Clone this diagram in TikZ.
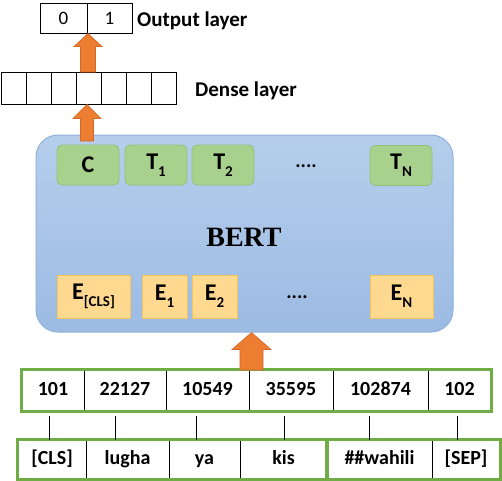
\documentclass[tikz,border=0pt]{standalone}
\usepackage{fontspec}
\setmainfont{Carlito}
\newfontfamily\bertfont{Liberation Serif}
\usetikzlibrary{calc}
\definecolor{arrowor}{HTML}{ED7D31}
\definecolor{arrowedge}{HTML}{D0692A}
\definecolor{tokgreen}{HTML}{70AD47}
\definecolor{berttop}{HTML}{B6CEEC}
\definecolor{bertbot}{HTML}{9CBBE3}
\definecolor{bertedge}{HTML}{8FB1DD}
\definecolor{tgreen}{HTML}{A9D18E}
\definecolor{tgreenedge}{HTML}{93C079}
\definecolor{eyellow}{HTML}{FFD98F}
\definecolor{eyellowedge}{HTML}{F3C45C}
\newcommand\sbs[1]{\raisebox{-0.3em}{\fontsize{15pt}{15pt}\selectfont #1}}
\newcommand\blockup[5]{%
  \path[blockarr] let \p1=(#1), \p2=(#2) in
    (\x1-#3pt,\y1) -- (\x1-#3pt,\y2-#5pt) -- (\x1-#4pt,\y2-#5pt) -- (\x1,\y2)
    -- (\x1+#4pt,\y2-#5pt) -- (\x1+#3pt,\y2-#5pt) -- (\x1+#3pt,\y1) -- cycle;}
\tikzset{
  cell/.style={draw=black, line width=0.9pt, inner sep=0pt, minimum height=#1},
  cell/.default=32pt,
  numcell/.style={draw=black, line width=0.9pt, inner sep=0pt, minimum height=41pt,
    text height=13pt, text depth=4pt,
    font=\fontsize{20pt}{20pt}\selectfont\bfseries},
  tokcell/.style={draw=black, line width=0.9pt, inner sep=0pt, minimum height=39pt,
    text height=13pt, text depth=4pt,
    font=\fontsize{20pt}{20pt}\selectfont\bfseries},
  greenbox/.style={draw=tokgreen, line width=2.6pt},
  tnode/.style={draw=tgreenedge, fill=tgreen, line width=0.8pt, rounded corners=5pt,
    minimum width=62pt, minimum height=40pt, inner sep=0pt,
    font=\fontsize{24pt}{24pt}\selectfont\bfseries},
  enode/.style={draw=eyellowedge, fill=eyellow, line width=0.8pt,
    minimum height=43pt, inner sep=0pt,
    font=\fontsize{24pt}{24pt}\selectfont\bfseries},
  layerlabel/.style={anchor=base west, inner sep=0pt, font=\fontsize{21pt}{21pt}\selectfont\bfseries},
  dotsnode/.style={inner sep=0pt, font=\fontsize{20pt}{20pt}\selectfont\bfseries},
  blockarr/.style={fill=arrowor, draw=arrowedge, line width=0.6pt},
  link/.style={draw=black, line width=0.9pt}
}
\begin{document}
\begin{tikzpicture}[x=1pt,y=-1pt]
\useasboundingbox (0,0) rectangle (502,480);
% output layer
\node[cell=30pt, minimum width=47pt, font=\fontsize{19pt}{19pt}\selectfont] (o0) at (63.5,18) {0};
\node[cell=30pt, minimum width=45pt, font=\fontsize{19pt}{19pt}\selectfont] (o1) at (109.5,18) {1};
\node[layerlabel] (olab) at (137,26) {Output layer};
% dense layer
\foreach \i in {1,...,7} {
  \node[cell=32pt, minimum width=25pt] (d\i) at ({13.5+25*(\i-1)},88) {};
}
\node[layerlabel] (dlab) at (195,96) {Dense layer};
% BERT box
\node[draw=bertedge, line width=1pt, top color=berttop, bottom color=bertbot,
  rounded corners=22pt, minimum width=417pt, minimum height=197pt, inner sep=0pt]
  (bert) at (244.5,233.5) {};
\node[inner sep=0pt, font=\fontsize{28pt}{28pt}\selectfont\bertfont\bfseries] (bertlab) at (244,237) {BERT};
% T nodes
\node[tnode] (c) at (88,165) {C};
\node[tnode] (t1) at (156,165) {T\sbs{1}};
\node[tnode] (t2) at (223,165) {T\sbs{2}};
\node[dotsnode] (tdots) at (306,166) {....};
\node[tnode] (tn) at (401,165.5) {T\sbs{N}};
% E nodes
\node[enode, minimum width=73pt] (ecls) at (93.5,296.5) {E\sbs{[CLS]}};
\node[enode, minimum width=45pt] (e1) at (164.5,296.5) {E\sbs{1}};
\node[enode, minimum width=45pt] (e2) at (214.5,296.5) {E\sbs{2}};
\node[dotsnode] (edots) at (297,297) {....};
\node[enode, minimum width=63pt] (en) at (401.5,296.5) {E\sbs{N}};
% numbers
\node[numcell, minimum width=62pt] (n1) at (53,390.5) {101};
\node[numcell, minimum width=82pt] (n2) at (125,390.5) {22127};
\node[numcell, minimum width=83pt] (n3) at (207.5,390.5) {10549};
\node[numcell, minimum width=84pt] (n4) at (291,390.5) {35595};
\node[numcell, minimum width=95pt] (n5) at (380.5,390.5) {102874};
\node[numcell, minimum width=63pt] (n6) at (459.5,390.5) {102};
\draw[greenbox] (n1.north west) rectangle (n6.south east);
% tokens
\node[tokcell, minimum width=68pt] (k1) at (52,459.5) {[CLS]};
\node[tokcell, minimum width=83pt] (k2) at (127.5,459.5) {lugha};
\node[tokcell, minimum width=71pt] (k3) at (204.5,459.5) {ya};
\node[tokcell, minimum width=87pt] (k4) at (283.5,459.5) {kis};
\node[tokcell, minimum width=105pt] (k5) at (379.5,459.5) {\#\#wahili};
\node[tokcell, minimum width=68pt] (k6) at (466,459.5) {[SEP]};
\draw[greenbox] (k1.north west) rectangle (k4.south east);
\draw[greenbox] (k5.north west) rectangle (k6.south east);
% links between ids and tokens
\coordinate (l1) at (49,416);
\coordinate (l2) at (115,416);
\coordinate (l3) at (196,416);
\coordinate (l4) at (284,416);
\coordinate (l5) at (369,416);
\coordinate (l6) at (457,416);
\draw[link] (l1) -- (l1 |- k1.north);
\draw[link] (l2) -- (l2 |- k2.north);
\draw[link] (l3) -- (l3 |- k3.north);
\draw[link] (l4) -- (l4 |- k4.north);
\draw[link] (l5) -- (l5 |- k5.north);
\draw[link] (l6) -- (l6 |- k6.north);
% block arrows
\coordinate (a1b) at (88,72);
\blockup{a1b}{o0.south east}{7.5}{14}{13}
\coordinate (a2b) at (87,141);
\blockup{a2b}{d4.south}{6.5}{14}{14}
\coordinate (a3b) at (251.5,370);
\blockup{a3b}{bert.south}{11.5}{19.5}{17}
\end{tikzpicture}
\end{document}
